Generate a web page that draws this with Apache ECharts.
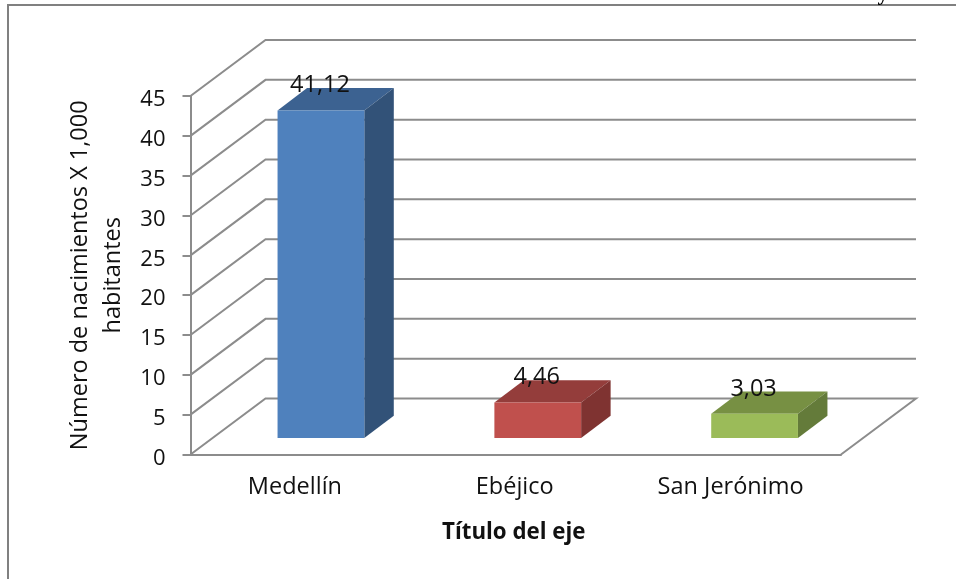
<!DOCTYPE html>
<html><head><meta charset="utf-8">
<style>html,body{margin:0;padding:0;background:#fff}#c{width:956px;height:579px}</style>
<script src="https://cdn.jsdelivr.net/npm/echarts@6/dist/echarts.min.js"></script>
</head><body><div id="c"></div>
<script>
const categories = ['Medellín', 'Ebéjico', 'San Jerónimo'];
const values = [41.12, 4.46, 3.03];
const valueLabels = ['41,12', '4,46', '3,03'];
const yTicks = [0, 5, 10, 15, 20, 25, 30, 35, 40, 45];
const yTitle = 'Número de nacimientos X 1,000\nhabitantes';
const xTitle = 'Título del eje';
const frontColors = ['#4F81BD', '#C0504D', '#9BBB59'];
const topColors = ['#3C6291', '#943D3B', '#779043'];
const sideColors = ['#325278', '#7F3331', '#647B3A'];

const FONT = '"Open Sans", sans-serif';
const GRID = '#8C8C8C';
const INK = '#111111';
const DX = 75, DY = -56;       // wall depth
const SX = 22, SY = -16.5;     // bar offset from the front of the floor
const BX = 29.5, BY = -22.3;   // bar depth
const labelPad = [[0, 8, 0, 0], [0, 2, 0, 0], [0, 4, 0, 0]];

const chart = echarts.init(document.getElementById('c'), null, {renderer: 'canvas'});

function wallLines(params, api) {
  const v = api.value(0);
  const cs = params.coordSys;
  const y = api.coord([0, v])[1];
  const l = cs.x, r = cs.x + cs.width;
  const pts = [[l, y], [l + DX, y + DY], [r + DX, y + DY]];
  if (v === 0) pts.push([r, y]);
  return {type: 'polyline', shape: {points: pts}, style: {fill: null, stroke: GRID, lineWidth: 2}};
}

function bar3d(params, api) {
  const i = params.dataIndex;
  const top = api.coord([i, api.value(1)]);
  const base = api.coord([i, 0]);
  const w = api.size([1, 0])[0] * 0.4;
  const x0 = top[0] + SX - w / 2, x1 = x0 + w;
  const yt = top[1] + SY, yb = base[1] + SY;
  return {type: 'group', children: [
    {type: 'polygon', shape: {points: [[x0, yt], [x1, yt], [x1 + BX, yt + BY], [x0 + BX, yt + BY]]}, style: {fill: topColors[i]}},
    {type: 'polygon', shape: {points: [[x1, yt], [x1 + BX, yt + BY], [x1 + BX, yb + BY], [x1, yb]]}, style: {fill: sideColors[i]}},
    {type: 'rect', shape: {x: x0, y: yt, width: w, height: yb - yt}, style: {fill: frontColors[i]}},
    {type: 'text', z2: 10, x: x0 + w / 2 - 1, y: yt - 25, style: {text: valueLabels[i], font: '23.5px ' + FONT, fill: INK, align: 'center', verticalAlign: 'middle'}}
  ]};
}

chart.setOption({
  animation: false,
  backgroundColor: '#fff',
  grid: {left: 190.5, top: 96, width: 650.5, height: 358.5},
  xAxis: {
    type: 'category',
    data: categories.map((c, i) => ({value: c, textStyle: {padding: labelPad[i]}})),
    name: xTitle, nameLocation: 'middle', nameGap: 67,
    nameTextStyle: {fontFamily: FONT, fontWeight: 'bold', fontSize: 22.3, color: INK, padding: [0, 4, 0, 0]},
    axisLine: {lineStyle: {color: GRID, width: 2}},
    axisTick: {show: false},
    axisLabel: {margin: 21, fontFamily: FONT, fontSize: 23.5, color: INK},
    splitLine: {show: false}
  },
  yAxis: {
    type: 'value', min: 0, max: 45, interval: 5,
    name: yTitle, nameLocation: 'middle', nameRotate: 90, nameGap: 57,
    nameTextStyle: {fontFamily: FONT, fontSize: 23.5, color: INK, lineHeight: 33, align: 'center'},
    axisLine: {show: true, lineStyle: {color: GRID, width: 2}},
    axisTick: {show: true, length: 8, lineStyle: {color: GRID, width: 2}},
    axisLabel: {margin: 25, fontFamily: FONT, fontSize: 22, color: INK, verticalAlign: 'top', lineHeight: 8},
    splitLine: {show: false}
  },
  series: [
    {type: 'custom', name: 'walls', silent: true, z: 1, data: yTicks.map(v => [v]), encode: {y: 0}, renderItem: wallLines},
    {type: 'custom', name: 'bars', silent: true, z: 2, data: values.map((v, i) => [i, v]), encode: {x: 0, y: 1}, renderItem: bar3d}
  ],
  graphic: [
    {type: 'polyline', silent: true, shape: {points: [[8, 579], [8, 5], [956, 5]]}, style: {fill: null, stroke: '#808080', lineWidth: 2}},
    {type: 'text', silent: true, x: 883, y: -6, style: {text: 'y', font: 'bold 22px "Liberation Serif", serif', fill: '#000', align: 'center', verticalAlign: 'middle'}}
  ]
});
</script></body></html>
